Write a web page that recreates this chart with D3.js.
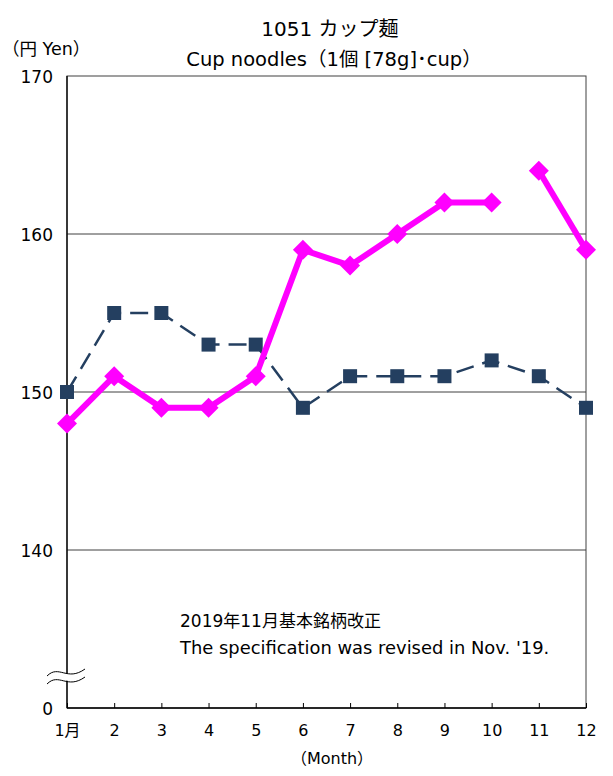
<!DOCTYPE html>
<html><head><meta charset="utf-8">
<script src="https://cdn.jsdelivr.net/npm/d3@7"></script>
<style>
body{margin:0;background:#fff;}
text{font-family:"DejaVu Sans","Noto Sans CJK JP",sans-serif;fill:#000;}
</style></head><body>
<svg id="c" width="613" height="776"></svg>
<script>
const months = ["1月","2","3","4","5","6","7","8","9","10","11","12"];
const seriesDark = [150,155,155,153,153,149,151,151,151,152,151,149];
const seriesMagenta = [148,151,149,149,151,159,158,160,162,162,164,159];
const magentaBreakBefore = 10; // line is broken between Oct and Nov (spec revision)
const yTicks = [140,150,160,170];
const yDomain = [130,170];

const svg = d3.select("#c");
const L=67,R=586,T=76,B=708;
const x = d3.scalePoint().domain(months).range([L,R]);
const y = d3.scaleLinear().domain(yDomain).range([B,T]);

// gridlines
svg.append("g").selectAll("line").data([140,150,160]).join("line")
  .attr("x1",L).attr("x2",R).attr("y1",d=>y(d)).attr("y2",d=>y(d))
  .attr("stroke","#404040").attr("stroke-width",1);
// frame
svg.append("rect").attr("x",L).attr("y",T).attr("width",R-L).attr("height",B-T)
  .attr("fill","none").attr("stroke","#404040").attr("stroke-width",1);
svg.append("line").attr("x1",L).attr("x2",L).attr("y1",T).attr("y2",B).attr("stroke","#000").attr("stroke-width",1.3);
svg.append("line").attr("x1",L).attr("x2",R).attr("y1",B).attr("y2",B).attr("stroke","#000").attr("stroke-width",1.3);

// x axis
const xa = svg.append("g").attr("transform",`translate(0,${B})`)
  .call(d3.axisBottom(x).tickSizeInner(-5).tickSizeOuter(0));
xa.select(".domain").remove();
xa.selectAll("line").attr("stroke","#000");
xa.selectAll("text").attr("font-size",16).attr("dy","0.71em").attr("y",17);

// y axis labels
const ya = svg.append("g").attr("transform",`translate(${L},0)`)
  .call(d3.axisLeft(y).tickValues(yTicks.concat([130])).tickFormat(d=>d===130?"0":d).tickSize(0).tickPadding(14));
ya.select(".domain").remove();
ya.selectAll("text").attr("font-size",17).attr("dy","0.36em");

// axis break
const bx=[47,85];
const wave=(y0)=>`M${bx[0]},${y0+4} C${bx[0]+12},${y0-8} ${bx[0]+20},${y0+10} ${bx[1]},${y0-3}`;
svg.append("path").attr("d",wave(672)+` L${bx[1]},${676} `+`C${bx[0]+20},${689} ${bx[0]+12},${671} ${bx[0]},${683} Z`).attr("fill","#fff").attr("stroke","none");
svg.append("path").attr("d",wave(672)).attr("fill","none").attr("stroke","#000").attr("stroke-width",1);
svg.append("path").attr("d",wave(680)).attr("fill","none").attr("stroke","#000").attr("stroke-width",1);

// dark series
const darkData = seriesDark.map((v,i)=>({m:months[i],v}));
svg.append("path").datum(darkData)
  .attr("d",d3.line().x(d=>x(d.m)).y(d=>y(d.v)))
  .attr("fill","none").attr("stroke","#243F60").attr("stroke-width",2.5).attr("stroke-dasharray","18,9");
svg.append("g").selectAll("rect").data(darkData).join("rect")
  .attr("x",d=>x(d.m)-7).attr("y",d=>y(d.v)-7).attr("width",14).attr("height",14).attr("fill","#243F60");

// magenta series (two segments)
const magData = seriesMagenta.map((v,i)=>({m:months[i],v}));
const segs=[magData.slice(0,magentaBreakBefore), magData.slice(magentaBreakBefore)];
svg.append("g").selectAll("path").data(segs).join("path")
  .attr("d",d3.line().x(d=>x(d.m)).y(d=>y(d.v)))
  .attr("fill","none").attr("stroke","#FF00FF").attr("stroke-width",6).attr("stroke-linejoin","round");
svg.append("g").selectAll("path").data(magData).join("path")
  .attr("d",d3.symbol().type(d3.symbolSquare).size(200))
  .attr("transform",d=>`translate(${x(d.m)},${y(d.v)}) rotate(45)`).attr("fill","#FF00FF");

// titles
svg.append("text").attr("x",330).attr("y",36).attr("text-anchor","middle").attr("font-size",20).text("1051 カップ麺");
svg.append("text").attr("x",334).attr("y",66).attr("text-anchor","middle").attr("font-size",19.5).text("Cup noodles（1個 [78g]･cup）");
svg.append("text").attr("x",2).attr("y",55).attr("font-size",17.5).text("（円 Yen）");
svg.append("text").attr("x",332).attr("y",764).attr("text-anchor","middle").attr("font-size",16).text("（Month）");

// annotation
svg.append("text").attr("x",180).attr("y",627).attr("font-size",17).text("2019年11月基本銘柄改正");
svg.append("text").attr("x",180).attr("y",654).attr("font-size",17.9).text("The specification was revised in Nov. '19.");
</script></body></html>
